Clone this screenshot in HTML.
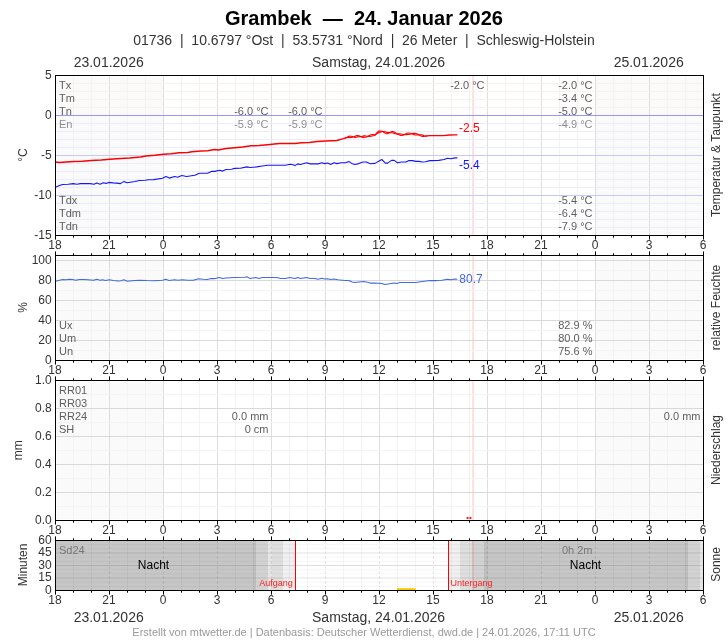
<!DOCTYPE html>
<html lang="de">
<head>
<meta charset="utf-8">
<title>Grambek — 24. Januar 2026</title>
<style>
html,body{margin:0;padding:0;background:#fff;}
body{width:728px;height:640px;overflow:hidden;font-family:"Liberation Sans", sans-serif;}
svg{display:block;font-family:"Liberation Sans", sans-serif;}
svg text{white-space:pre;}
</style>
</head>
<body>
<svg width="728" height="640" viewBox="0 0 728 640">
<rect width="728" height="640" fill="#fff"/>
<text x="364" y="24.8" font-size="20" fill="#000" text-anchor="middle" font-weight="bold" >Grambek  —  24. Januar 2026</text>
<text x="364" y="45" font-size="14" fill="#333" text-anchor="middle" font-weight="normal" >01736  |  10.6797 °Ost  |  53.5731 °Nord  |  26 Meter  |  Schleswig-Holstein</text>
<text x="108.7" y="67" font-size="14" fill="#333" text-anchor="middle" font-weight="normal" >23.01.2026</text>
<text x="378.6" y="67" font-size="14" fill="#333" text-anchor="middle" font-weight="normal" >Samstag, 24.01.2026</text>
<text x="648.7" y="67" font-size="14" fill="#333" text-anchor="middle" font-weight="normal" >25.01.2026</text>
<text x="108.7" y="622" font-size="14" fill="#333" text-anchor="middle" font-weight="normal" >23.01.2026</text>
<text x="378.6" y="622" font-size="14" fill="#333" text-anchor="middle" font-weight="normal" >Samstag, 24.01.2026</text>
<text x="648.7" y="622" font-size="14" fill="#333" text-anchor="middle" font-weight="normal" >25.01.2026</text>
<text x="364" y="636" font-size="11" fill="#999" text-anchor="middle" font-weight="normal" >Erstellt von mtwetter.de | Datenbasis: Deutscher Wetterdienst, dwd.de | 24.01.2026, 17:11 UTC</text>
<g shape-rendering="crispEdges">
<rect x="57" y="77" width="106.5" height="157" fill="#fafafa" />
<rect x="595.5" y="77" width="106.5" height="157" fill="#fafafa" />
<line x1="73.5" y1="76" x2="73.5" y2="235" stroke="#f3f3f3" stroke-width="1" />
<line x1="91.5" y1="76" x2="91.5" y2="235" stroke="#f3f3f3" stroke-width="1" />
<line x1="109.5" y1="76" x2="109.5" y2="235" stroke="#dedede" stroke-width="1" />
<line x1="127.5" y1="76" x2="127.5" y2="235" stroke="#f3f3f3" stroke-width="1" />
<line x1="145.5" y1="76" x2="145.5" y2="235" stroke="#f3f3f3" stroke-width="1" />
<line x1="163.5" y1="76" x2="163.5" y2="235" stroke="#dedede" stroke-width="1" />
<line x1="181.5" y1="76" x2="181.5" y2="235" stroke="#f3f3f3" stroke-width="1" />
<line x1="199.5" y1="76" x2="199.5" y2="235" stroke="#f3f3f3" stroke-width="1" />
<line x1="217.5" y1="76" x2="217.5" y2="235" stroke="#dedede" stroke-width="1" />
<line x1="235.5" y1="76" x2="235.5" y2="235" stroke="#f3f3f3" stroke-width="1" />
<line x1="253.5" y1="76" x2="253.5" y2="235" stroke="#f3f3f3" stroke-width="1" />
<line x1="271.5" y1="76" x2="271.5" y2="235" stroke="#dedede" stroke-width="1" />
<line x1="289.5" y1="76" x2="289.5" y2="235" stroke="#f3f3f3" stroke-width="1" />
<line x1="307.5" y1="76" x2="307.5" y2="235" stroke="#f3f3f3" stroke-width="1" />
<line x1="325.5" y1="76" x2="325.5" y2="235" stroke="#dedede" stroke-width="1" />
<line x1="343.5" y1="76" x2="343.5" y2="235" stroke="#f3f3f3" stroke-width="1" />
<line x1="361.5" y1="76" x2="361.5" y2="235" stroke="#f3f3f3" stroke-width="1" />
<line x1="379.5" y1="76" x2="379.5" y2="235" stroke="#dedede" stroke-width="1" />
<line x1="397.5" y1="76" x2="397.5" y2="235" stroke="#f3f3f3" stroke-width="1" />
<line x1="415.5" y1="76" x2="415.5" y2="235" stroke="#f3f3f3" stroke-width="1" />
<line x1="433.5" y1="76" x2="433.5" y2="235" stroke="#dedede" stroke-width="1" />
<line x1="451.5" y1="76" x2="451.5" y2="235" stroke="#f3f3f3" stroke-width="1" />
<line x1="469.5" y1="76" x2="469.5" y2="235" stroke="#f3f3f3" stroke-width="1" />
<line x1="487.5" y1="76" x2="487.5" y2="235" stroke="#dedede" stroke-width="1" />
<line x1="505.5" y1="76" x2="505.5" y2="235" stroke="#f3f3f3" stroke-width="1" />
<line x1="523.5" y1="76" x2="523.5" y2="235" stroke="#f3f3f3" stroke-width="1" />
<line x1="541.5" y1="76" x2="541.5" y2="235" stroke="#dedede" stroke-width="1" />
<line x1="559.5" y1="76" x2="559.5" y2="235" stroke="#f3f3f3" stroke-width="1" />
<line x1="577.5" y1="76" x2="577.5" y2="235" stroke="#f3f3f3" stroke-width="1" />
<line x1="595.5" y1="76" x2="595.5" y2="235" stroke="#dedede" stroke-width="1" />
<line x1="613.5" y1="76" x2="613.5" y2="235" stroke="#f3f3f3" stroke-width="1" />
<line x1="631.5" y1="76" x2="631.5" y2="235" stroke="#f3f3f3" stroke-width="1" />
<line x1="649.5" y1="76" x2="649.5" y2="235" stroke="#dedede" stroke-width="1" />
<line x1="667.5" y1="76" x2="667.5" y2="235" stroke="#f3f3f3" stroke-width="1" />
<line x1="685.5" y1="76" x2="685.5" y2="235" stroke="#f3f3f3" stroke-width="1" />
</g>
<line x1="473" y1="76" x2="473" y2="235" stroke="rgba(255,0,0,0.15)" stroke-width="1.6" />
<g shape-rendering="crispEdges">
<line x1="56" y1="83.5" x2="703" y2="83.5" stroke="#ffecec" stroke-width="1" />
<line x1="56" y1="91.5" x2="703" y2="91.5" stroke="#ffecec" stroke-width="1" />
<line x1="56" y1="99.5" x2="703" y2="99.5" stroke="#ffecec" stroke-width="1" />
<line x1="56" y1="107.5" x2="703" y2="107.5" stroke="#ffecec" stroke-width="1" />
<line x1="56" y1="115.5" x2="703" y2="115.5" stroke="#9696ff" stroke-width="1" />
<line x1="56" y1="123.5" x2="703" y2="123.5" stroke="#ebebff" stroke-width="1" />
<line x1="56" y1="131.5" x2="703" y2="131.5" stroke="#ebebff" stroke-width="1" />
<line x1="56" y1="139.5" x2="703" y2="139.5" stroke="#ebebff" stroke-width="1" />
<line x1="56" y1="147.5" x2="703" y2="147.5" stroke="#ebebff" stroke-width="1" />
<line x1="56" y1="155.5" x2="703" y2="155.5" stroke="#c8c8ff" stroke-width="1" />
<line x1="56" y1="163.5" x2="703" y2="163.5" stroke="#ebebff" stroke-width="1" />
<line x1="56" y1="171.5" x2="703" y2="171.5" stroke="#ebebff" stroke-width="1" />
<line x1="56" y1="179.5" x2="703" y2="179.5" stroke="#ebebff" stroke-width="1" />
<line x1="56" y1="187.5" x2="703" y2="187.5" stroke="#ebebff" stroke-width="1" />
<line x1="56" y1="195.5" x2="703" y2="195.5" stroke="#c8c8ff" stroke-width="1" />
<line x1="56" y1="203.5" x2="703" y2="203.5" stroke="#ebebff" stroke-width="1" />
<line x1="56" y1="211.5" x2="703" y2="211.5" stroke="#ebebff" stroke-width="1" />
<line x1="56" y1="219.5" x2="703" y2="219.5" stroke="#ebebff" stroke-width="1" />
<line x1="56" y1="227.5" x2="703" y2="227.5" stroke="#ebebff" stroke-width="1" />
</g>
<polyline points="55.5,187.3 59.4,185.6 62.7,184.5 68.2,184.2 73.1,183.6 77.0,184.2 80.3,183.6 90.2,183.6 94.0,184.2 96.8,182.9 100.1,184.2 103.4,182.8 106.1,183.4 108.8,182.4 113.2,182.9 116.5,183.1 120.4,183.6 124.0,181.4 127.0,182.8 131.9,182.0 135.0,181.5 139.4,180.5 145.4,180.3 148.2,179.7 153.7,179.6 162.5,178.3 166.0,176.5 169.3,178.1 174.6,176.5 177.9,177.2 181.7,175.5 186.6,176.5 189.9,176.0 194.9,175.2 199.3,173.3 207.5,173.3 211.4,171.4 215.0,171.4 219.4,170.3 222.7,171.1 226.0,169.5 231.5,169.3 234.8,168.4 240.3,168.3 246.9,166.9 250.2,167.5 256.8,166.9 262.3,166.0 267.7,165.2 276.5,165.2 285.3,165.2 290.3,164.2 293.0,164.7 295.0,165.6 297.7,163.9 300.5,164.5 306.5,162.8 310.4,163.9 318.1,163.9 321.9,162.8 324.7,163.6 327.7,163.0 330.7,164.5 334.0,162.8 336.8,163.6 341.2,162.8 345.5,162.8 348.8,161.4 351.6,163.4 354.9,164.5 358.7,163.6 363.1,162.0 366.4,162.0 370.3,163.7 375.0,163.4 378.3,161.4 381.8,159.5 385.4,163.1 387.6,163.1 391.5,160.4 394.2,160.4 397.5,162.8 401.4,162.0 405.8,162.0 409.1,160.6 412.4,160.6 415.7,161.4 419.0,161.4 422.3,162.0 425.5,161.7 429.9,160.6 438.7,160.4 444.2,159.5 447.5,158.2 450.8,158.7 455.0,157.9 456.9,157.9" fill="none" stroke="#1414ff" stroke-width="1.1" stroke-linejoin="round" stroke-linecap="round"/>
<polyline points="346.0,137.7 347.0,137.5 348.0,137.4 349.0,137.3 350.0,137.6 351.0,137.5 352.0,137.3 353.0,137.0 354.0,136.8 355.0,136.3 356.0,135.9 357.0,135.6 358.0,135.5 359.0,135.8 360.0,136.2 361.0,136.7 362.0,137.2 363.0,137.4 364.0,137.4 365.0,137.3 366.0,137.1 367.0,136.7 368.0,136.2 369.0,135.7 370.0,135.2 371.0,134.8 372.0,134.6 373.0,134.6 374.0,134.7 375.0,134.9 376.0,134.3 377.0,133.7 378.0,133.0 379.0,132.6 380.0,132.3 381.0,132.0 382.0,131.5 383.0,131.5 384.0,131.5 385.0,131.7 386.0,132.0 387.0,132.4 388.0,132.4 389.0,132.5 390.0,132.6 391.0,132.7 392.0,132.7 393.0,132.9 394.0,133.3 395.0,133.6 396.0,133.8 397.0,133.9 398.0,133.8 399.0,133.8 400.0,133.8 401.0,134.0 402.0,134.3 403.0,134.5 404.0,134.5 405.0,134.6 406.0,134.6 407.0,134.6 408.0,134.4 409.0,134.4 410.0,134.2 411.0,133.9 412.0,133.6 413.0,133.4 414.0,133.3 415.0,133.4 416.0,133.6 417.0,133.9 418.0,134.3 419.0,134.8 420.0,135.4 421.0,135.9 422.0,136.3 423.0,136.3 424.0,136.3 425.0,136.2 426.0,136.0" fill="none" stroke="#ff0000" stroke-width="1.15" stroke-linejoin="round" stroke-linecap="round"/>
<polyline points="346.0,137.7 347.0,137.3 348.0,136.8 349.0,136.3 350.0,136.1 351.0,136.3 352.0,136.5 353.0,136.9 354.0,137.2 355.0,137.3 356.0,137.3 357.0,137.1 358.0,136.8 359.0,136.7 360.0,136.6 361.0,136.5 362.0,136.4 363.0,136.1 364.0,135.9 365.0,135.9 366.0,136.0 367.0,136.2 368.0,136.3 369.0,136.4 370.0,136.4 371.0,136.3 372.0,136.0 373.0,135.8 374.0,135.5 375.0,135.1 376.0,133.8 377.0,132.7 378.0,131.6 379.0,131.1 380.0,131.0 381.0,131.1 382.0,131.2 383.0,131.8 384.0,132.4 385.0,133.0 386.0,133.5 387.0,133.8 388.0,133.4 389.0,133.0 390.0,132.5 391.0,131.9 392.0,131.5 393.0,131.4 394.0,131.9 395.0,132.4 396.0,133.1 397.0,133.9 398.0,134.4 399.0,134.8 400.0,135.2 401.0,135.4 402.0,135.5 403.0,135.3 404.0,134.8 405.0,134.2 406.0,133.7 407.0,133.3 408.0,133.0 409.0,133.0 410.0,133.2 411.0,133.5 412.0,133.8 413.0,134.2 414.0,134.6 415.0,134.9 416.0,135.0 417.0,135.0 418.0,134.9 419.0,134.8 420.0,134.8 421.0,134.7 422.0,134.8 423.0,135.2 424.0,135.7 425.0,136.0 426.0,136.0" fill="none" stroke="#ff0000" stroke-width="1.15" stroke-linejoin="round" stroke-linecap="round"/>
<polyline points="55.5,162.0 59.4,162.6 66.0,161.9 73.7,161.5 82.5,161.2 91.3,160.5 101.2,160.0 109.9,159.3 120.9,158.5 129.7,157.9 135.0,157.4 140.5,157.1 146.0,156.1 154.8,155.3 163.6,154.2 171.3,153.7 179.0,152.8 187.7,152.4 192.1,151.7 200.9,151.1 207.5,150.7 215.0,149.6 218.3,150.0 226.0,148.6 234.8,147.8 242.5,147.1 251.3,145.8 259.0,145.6 267.7,144.7 274.3,144.1 279.8,143.5 287.5,143.6 295.0,143.6 301.6,142.8 309.3,142.5 317.0,141.6 325.8,140.9 336.8,140.5 343.4,138.6 346.0,137.7" fill="none" stroke="#ff0000" stroke-width="1.5" stroke-linejoin="round" stroke-linecap="round"/>
<polyline points="426.0,136.0 429.9,135.7 436.5,135.7 443.1,135.7 449.7,135.0 455.0,134.8 456.9,134.9" fill="none" stroke="#ff0000" stroke-width="1.3" stroke-linejoin="round" stroke-linecap="round"/>
<rect x="55.5" y="75.5" width="648" height="160" fill="none" stroke="#000" stroke-width="1" shape-rendering="crispEdges"/>
<path d="M55.5 235.5v4.1M73.5 235.5v2.2M91.5 235.5v2.2M109.5 235.5v4.1M127.5 235.5v2.2M145.5 235.5v2.2M163.5 235.5v4.1M181.5 235.5v2.2M199.5 235.5v2.2M217.5 235.5v4.1M235.5 235.5v2.2M253.5 235.5v2.2M271.5 235.5v4.1M289.5 235.5v2.2M307.5 235.5v2.2M325.5 235.5v4.1M343.5 235.5v2.2M361.5 235.5v2.2M379.5 235.5v4.1M397.5 235.5v2.2M415.5 235.5v2.2M433.5 235.5v4.1M451.5 235.5v2.2M469.5 235.5v2.2M487.5 235.5v4.1M505.5 235.5v2.2M523.5 235.5v2.2M541.5 235.5v4.1M559.5 235.5v2.2M577.5 235.5v2.2M595.5 235.5v4.1M613.5 235.5v2.2M631.5 235.5v2.2M649.5 235.5v4.1M667.5 235.5v2.2M685.5 235.5v2.2M703.5 235.5v4.1" stroke="#000" stroke-width="1" fill="none"/>
<text x="55" y="248.8" font-size="12" fill="#333" text-anchor="middle" font-weight="normal" >18</text>
<text x="109" y="248.8" font-size="12" fill="#333" text-anchor="middle" font-weight="normal" >21</text>
<text x="163" y="248.8" font-size="12" fill="#333" text-anchor="middle" font-weight="normal" >0</text>
<text x="217" y="248.8" font-size="12" fill="#333" text-anchor="middle" font-weight="normal" >3</text>
<text x="271" y="248.8" font-size="12" fill="#333" text-anchor="middle" font-weight="normal" >6</text>
<text x="325" y="248.8" font-size="12" fill="#333" text-anchor="middle" font-weight="normal" >9</text>
<text x="379" y="248.8" font-size="12" fill="#333" text-anchor="middle" font-weight="normal" >12</text>
<text x="433" y="248.8" font-size="12" fill="#333" text-anchor="middle" font-weight="normal" >15</text>
<text x="487" y="248.8" font-size="12" fill="#333" text-anchor="middle" font-weight="normal" >18</text>
<text x="541" y="248.8" font-size="12" fill="#333" text-anchor="middle" font-weight="normal" >21</text>
<text x="595" y="248.8" font-size="12" fill="#333" text-anchor="middle" font-weight="normal" >0</text>
<text x="649" y="248.8" font-size="12" fill="#333" text-anchor="middle" font-weight="normal" >3</text>
<text x="703" y="248.8" font-size="12" fill="#333" text-anchor="middle" font-weight="normal" >6</text>
<text x="51.7" y="79.3" font-size="12" fill="#333" text-anchor="end" font-weight="normal" >5</text>
<text x="51.7" y="119.3" font-size="12" fill="#333" text-anchor="end" font-weight="normal" >0</text>
<text x="51.7" y="159.3" font-size="12" fill="#333" text-anchor="end" font-weight="normal" >-5</text>
<text x="51.7" y="199.3" font-size="12" fill="#333" text-anchor="end" font-weight="normal" >-10</text>
<text x="51.7" y="239.3" font-size="12" fill="#333" text-anchor="end" font-weight="normal" >-15</text>
<text transform="translate(27,155) rotate(-90)" font-size="12" fill="#333" text-anchor="middle">°C</text>
<text transform="translate(719.5,155) rotate(-90)" font-size="12" fill="#333" text-anchor="middle">Temperatur &amp; Taupunkt</text>
<text x="59" y="88.5" font-size="11" fill="#5e5e5e" text-anchor="start" font-weight="normal" >Tx</text>
<text x="59" y="101.5" font-size="11" fill="#5e5e5e" text-anchor="start" font-weight="normal" >Tm</text>
<text x="59" y="114.5" font-size="11" fill="#5e5e5e" text-anchor="start" font-weight="normal" >Tn</text>
<text x="59" y="127.5" font-size="11" fill="#8e8e8e" text-anchor="start" font-weight="normal" >En</text>
<text x="59" y="203.5" font-size="11" fill="#5e5e5e" text-anchor="start" font-weight="normal" >Tdx</text>
<text x="59" y="216.5" font-size="11" fill="#5e5e5e" text-anchor="start" font-weight="normal" >Tdm</text>
<text x="59" y="229.5" font-size="11" fill="#5e5e5e" text-anchor="start" font-weight="normal" >Tdn</text>
<text x="268.5" y="114.5" font-size="11" fill="#5e5e5e" text-anchor="end" font-weight="normal" >-6.0 °C</text>
<text x="322.5" y="114.5" font-size="11" fill="#5e5e5e" text-anchor="end" font-weight="normal" >-6.0 °C</text>
<text x="268.5" y="127.5" font-size="11" fill="#8e8e8e" text-anchor="end" font-weight="normal" >-5.9 °C</text>
<text x="322.5" y="127.5" font-size="11" fill="#8e8e8e" text-anchor="end" font-weight="normal" >-5.9 °C</text>
<text x="484.5" y="88.5" font-size="11" fill="#5e5e5e" text-anchor="end" font-weight="normal" >-2.0 °C</text>
<text x="592.5" y="88.5" font-size="11" fill="#5e5e5e" text-anchor="end" font-weight="normal" >-2.0 °C</text>
<text x="592.5" y="101.5" font-size="11" fill="#5e5e5e" text-anchor="end" font-weight="normal" >-3.4 °C</text>
<text x="592.5" y="114.5" font-size="11" fill="#5e5e5e" text-anchor="end" font-weight="normal" >-5.0 °C</text>
<text x="592.5" y="127.5" font-size="11" fill="#8e8e8e" text-anchor="end" font-weight="normal" >-4.9 °C</text>
<text x="592.5" y="203.5" font-size="11" fill="#5e5e5e" text-anchor="end" font-weight="normal" >-5.4 °C</text>
<text x="592.5" y="216.5" font-size="11" fill="#5e5e5e" text-anchor="end" font-weight="normal" >-6.4 °C</text>
<text x="592.5" y="229.5" font-size="11" fill="#5e5e5e" text-anchor="end" font-weight="normal" >-7.9 °C</text>
<text x="459" y="131.9" font-size="12" fill="#ff0000" text-anchor="start" font-weight="normal" >-2.5</text>
<text x="459" y="169" font-size="12" fill="#1414ff" text-anchor="start" font-weight="normal" >-5.4</text>
<g shape-rendering="crispEdges">
<rect x="57" y="257" width="106.5" height="102" fill="#fafafa" />
<rect x="595.5" y="257" width="106.5" height="102" fill="#fafafa" />
<line x1="73.5" y1="256" x2="73.5" y2="360" stroke="#f3f3f3" stroke-width="1" />
<line x1="91.5" y1="256" x2="91.5" y2="360" stroke="#f3f3f3" stroke-width="1" />
<line x1="109.5" y1="256" x2="109.5" y2="360" stroke="#dedede" stroke-width="1" />
<line x1="127.5" y1="256" x2="127.5" y2="360" stroke="#f3f3f3" stroke-width="1" />
<line x1="145.5" y1="256" x2="145.5" y2="360" stroke="#f3f3f3" stroke-width="1" />
<line x1="163.5" y1="256" x2="163.5" y2="360" stroke="#dedede" stroke-width="1" />
<line x1="181.5" y1="256" x2="181.5" y2="360" stroke="#f3f3f3" stroke-width="1" />
<line x1="199.5" y1="256" x2="199.5" y2="360" stroke="#f3f3f3" stroke-width="1" />
<line x1="217.5" y1="256" x2="217.5" y2="360" stroke="#dedede" stroke-width="1" />
<line x1="235.5" y1="256" x2="235.5" y2="360" stroke="#f3f3f3" stroke-width="1" />
<line x1="253.5" y1="256" x2="253.5" y2="360" stroke="#f3f3f3" stroke-width="1" />
<line x1="271.5" y1="256" x2="271.5" y2="360" stroke="#dedede" stroke-width="1" />
<line x1="289.5" y1="256" x2="289.5" y2="360" stroke="#f3f3f3" stroke-width="1" />
<line x1="307.5" y1="256" x2="307.5" y2="360" stroke="#f3f3f3" stroke-width="1" />
<line x1="325.5" y1="256" x2="325.5" y2="360" stroke="#dedede" stroke-width="1" />
<line x1="343.5" y1="256" x2="343.5" y2="360" stroke="#f3f3f3" stroke-width="1" />
<line x1="361.5" y1="256" x2="361.5" y2="360" stroke="#f3f3f3" stroke-width="1" />
<line x1="379.5" y1="256" x2="379.5" y2="360" stroke="#dedede" stroke-width="1" />
<line x1="397.5" y1="256" x2="397.5" y2="360" stroke="#f3f3f3" stroke-width="1" />
<line x1="415.5" y1="256" x2="415.5" y2="360" stroke="#f3f3f3" stroke-width="1" />
<line x1="433.5" y1="256" x2="433.5" y2="360" stroke="#dedede" stroke-width="1" />
<line x1="451.5" y1="256" x2="451.5" y2="360" stroke="#f3f3f3" stroke-width="1" />
<line x1="469.5" y1="256" x2="469.5" y2="360" stroke="#f3f3f3" stroke-width="1" />
<line x1="487.5" y1="256" x2="487.5" y2="360" stroke="#dedede" stroke-width="1" />
<line x1="505.5" y1="256" x2="505.5" y2="360" stroke="#f3f3f3" stroke-width="1" />
<line x1="523.5" y1="256" x2="523.5" y2="360" stroke="#f3f3f3" stroke-width="1" />
<line x1="541.5" y1="256" x2="541.5" y2="360" stroke="#dedede" stroke-width="1" />
<line x1="559.5" y1="256" x2="559.5" y2="360" stroke="#f3f3f3" stroke-width="1" />
<line x1="577.5" y1="256" x2="577.5" y2="360" stroke="#f3f3f3" stroke-width="1" />
<line x1="595.5" y1="256" x2="595.5" y2="360" stroke="#dedede" stroke-width="1" />
<line x1="613.5" y1="256" x2="613.5" y2="360" stroke="#f3f3f3" stroke-width="1" />
<line x1="631.5" y1="256" x2="631.5" y2="360" stroke="#f3f3f3" stroke-width="1" />
<line x1="649.5" y1="256" x2="649.5" y2="360" stroke="#dedede" stroke-width="1" />
<line x1="667.5" y1="256" x2="667.5" y2="360" stroke="#f3f3f3" stroke-width="1" />
<line x1="685.5" y1="256" x2="685.5" y2="360" stroke="#f3f3f3" stroke-width="1" />
</g>
<line x1="473" y1="256" x2="473" y2="360" stroke="rgba(255,0,0,0.15)" stroke-width="1.6" />
<g shape-rendering="crispEdges">
<line x1="56" y1="350.5" x2="703" y2="350.5" stroke="#f4f4f4" stroke-width="1" />
<line x1="56" y1="340.5" x2="703" y2="340.5" stroke="#d9d9d9" stroke-width="1" />
<line x1="56" y1="330.5" x2="703" y2="330.5" stroke="#f4f4f4" stroke-width="1" />
<line x1="56" y1="320.5" x2="703" y2="320.5" stroke="#d9d9d9" stroke-width="1" />
<line x1="56" y1="310.5" x2="703" y2="310.5" stroke="#f4f4f4" stroke-width="1" />
<line x1="56" y1="300.5" x2="703" y2="300.5" stroke="#d9d9d9" stroke-width="1" />
<line x1="56" y1="290.5" x2="703" y2="290.5" stroke="#f4f4f4" stroke-width="1" />
<line x1="56" y1="280.5" x2="703" y2="280.5" stroke="#d9d9d9" stroke-width="1" />
<line x1="56" y1="270.5" x2="703" y2="270.5" stroke="#f4f4f4" stroke-width="1" />
<line x1="56" y1="260.5" x2="703" y2="260.5" stroke="#d9d9d9" stroke-width="1" />
</g>
<polyline points="55.5,281.2 59.4,280.2 62.7,279.5 66.0,279.7 69.8,279.2 72.6,279.5 75.9,280.2 79.2,279.4 83.6,279.4 88.0,279.7 93.5,280.3 96.8,279.3 100.1,280.3 102.8,279.7 105.5,280.5 109.4,279.7 113.2,280.4 118.7,281.0 120.9,280.8 124.0,279.8 127.0,281.2 131.9,280.7 135.0,280.5 139.4,280.2 147.1,280.6 153.7,280.7 162.5,280.2 165.8,279.3 169.1,280.5 174.6,279.8 177.9,280.3 182.3,279.7 187.7,280.2 193.2,280.2 198.7,278.7 203.1,279.3 207.5,279.4 210.8,278.6 215.0,278.6 219.4,277.6 222.7,278.6 226.0,278.0 234.8,277.5 244.7,277.3 246.9,276.8 250.2,278.6 255.7,277.5 259.0,278.4 262.3,277.5 269.9,277.5 276.5,277.5 280.9,278.4 285.3,278.4 289.7,277.6 295.0,278.4 297.7,277.4 300.5,278.4 306.5,277.4 310.4,278.4 314.8,278.4 318.1,279.3 321.9,278.2 324.7,279.1 327.7,278.8 330.7,279.5 334.0,279.1 337.9,279.7 342.3,280.2 345.5,280.6 348.8,280.4 352.1,281.9 354.9,282.5 358.7,282.1 363.7,281.5 366.4,282.1 370.3,283.1 375.0,283.1 381.6,283.5 384.9,284.6 388.2,283.9 393.7,283.0 397.5,283.5 399.7,282.4 406.9,282.4 415.7,282.4 422.3,281.5 429.9,280.6 436.5,280.6 442.0,280.2 447.5,279.3 450.8,279.8 455.0,279.1 456.9,279.3" fill="none" stroke="#4169e1" stroke-width="1.05" stroke-linejoin="round" stroke-linecap="round"/>
<rect x="55.5" y="255.5" width="648" height="105" fill="none" stroke="#000" stroke-width="1" shape-rendering="crispEdges"/>
<path d="M55.5 360.5v4.1M55.5 255.5v-4.1M73.5 360.5v2.2M73.5 255.5v-2.2M91.5 360.5v2.2M91.5 255.5v-2.2M109.5 360.5v4.1M109.5 255.5v-4.1M127.5 360.5v2.2M127.5 255.5v-2.2M145.5 360.5v2.2M145.5 255.5v-2.2M163.5 360.5v4.1M163.5 255.5v-4.1M181.5 360.5v2.2M181.5 255.5v-2.2M199.5 360.5v2.2M199.5 255.5v-2.2M217.5 360.5v4.1M217.5 255.5v-4.1M235.5 360.5v2.2M235.5 255.5v-2.2M253.5 360.5v2.2M253.5 255.5v-2.2M271.5 360.5v4.1M271.5 255.5v-4.1M289.5 360.5v2.2M289.5 255.5v-2.2M307.5 360.5v2.2M307.5 255.5v-2.2M325.5 360.5v4.1M325.5 255.5v-4.1M343.5 360.5v2.2M343.5 255.5v-2.2M361.5 360.5v2.2M361.5 255.5v-2.2M379.5 360.5v4.1M379.5 255.5v-4.1M397.5 360.5v2.2M397.5 255.5v-2.2M415.5 360.5v2.2M415.5 255.5v-2.2M433.5 360.5v4.1M433.5 255.5v-4.1M451.5 360.5v2.2M451.5 255.5v-2.2M469.5 360.5v2.2M469.5 255.5v-2.2M487.5 360.5v4.1M487.5 255.5v-4.1M505.5 360.5v2.2M505.5 255.5v-2.2M523.5 360.5v2.2M523.5 255.5v-2.2M541.5 360.5v4.1M541.5 255.5v-4.1M559.5 360.5v2.2M559.5 255.5v-2.2M577.5 360.5v2.2M577.5 255.5v-2.2M595.5 360.5v4.1M595.5 255.5v-4.1M613.5 360.5v2.2M613.5 255.5v-2.2M631.5 360.5v2.2M631.5 255.5v-2.2M649.5 360.5v4.1M649.5 255.5v-4.1M667.5 360.5v2.2M667.5 255.5v-2.2M685.5 360.5v2.2M685.5 255.5v-2.2M703.5 360.5v4.1M703.5 255.5v-4.1" stroke="#000" stroke-width="1" fill="none"/>
<text x="55" y="373.8" font-size="12" fill="#333" text-anchor="middle" font-weight="normal" >18</text>
<text x="109" y="373.8" font-size="12" fill="#333" text-anchor="middle" font-weight="normal" >21</text>
<text x="163" y="373.8" font-size="12" fill="#333" text-anchor="middle" font-weight="normal" >0</text>
<text x="217" y="373.8" font-size="12" fill="#333" text-anchor="middle" font-weight="normal" >3</text>
<text x="271" y="373.8" font-size="12" fill="#333" text-anchor="middle" font-weight="normal" >6</text>
<text x="325" y="373.8" font-size="12" fill="#333" text-anchor="middle" font-weight="normal" >9</text>
<text x="379" y="373.8" font-size="12" fill="#333" text-anchor="middle" font-weight="normal" >12</text>
<text x="433" y="373.8" font-size="12" fill="#333" text-anchor="middle" font-weight="normal" >15</text>
<text x="487" y="373.8" font-size="12" fill="#333" text-anchor="middle" font-weight="normal" >18</text>
<text x="541" y="373.8" font-size="12" fill="#333" text-anchor="middle" font-weight="normal" >21</text>
<text x="595" y="373.8" font-size="12" fill="#333" text-anchor="middle" font-weight="normal" >0</text>
<text x="649" y="373.8" font-size="12" fill="#333" text-anchor="middle" font-weight="normal" >3</text>
<text x="703" y="373.8" font-size="12" fill="#333" text-anchor="middle" font-weight="normal" >6</text>
<text x="51.7" y="364.3" font-size="12" fill="#333" text-anchor="end" font-weight="normal" >0</text>
<text x="51.7" y="344.3" font-size="12" fill="#333" text-anchor="end" font-weight="normal" >20</text>
<text x="51.7" y="324.3" font-size="12" fill="#333" text-anchor="end" font-weight="normal" >40</text>
<text x="51.7" y="304.3" font-size="12" fill="#333" text-anchor="end" font-weight="normal" >60</text>
<text x="51.7" y="284.3" font-size="12" fill="#333" text-anchor="end" font-weight="normal" >80</text>
<text x="51.7" y="264.3" font-size="12" fill="#333" text-anchor="end" font-weight="normal" >100</text>
<text transform="translate(27,307.5) rotate(-90)" font-size="12" fill="#333" text-anchor="middle">%</text>
<text transform="translate(719.5,307.5) rotate(-90)" font-size="12" fill="#333" text-anchor="middle">relative Feuchte</text>
<text x="59" y="328.5" font-size="11" fill="#5e5e5e" text-anchor="start" font-weight="normal" >Ux</text>
<text x="59" y="341.5" font-size="11" fill="#5e5e5e" text-anchor="start" font-weight="normal" >Um</text>
<text x="59" y="354.5" font-size="11" fill="#5e5e5e" text-anchor="start" font-weight="normal" >Un</text>
<text x="592.5" y="328.5" font-size="11" fill="#5e5e5e" text-anchor="end" font-weight="normal" >82.9 %</text>
<text x="592.5" y="341.5" font-size="11" fill="#5e5e5e" text-anchor="end" font-weight="normal" >80.0 %</text>
<text x="592.5" y="354.5" font-size="11" fill="#5e5e5e" text-anchor="end" font-weight="normal" >75.6 %</text>
<text x="459.3" y="282.9" font-size="12" fill="#4169e1" text-anchor="start" font-weight="normal" >80.7</text>
<g shape-rendering="crispEdges">
<rect x="57" y="382" width="106.5" height="137" fill="#fafafa" />
<rect x="595.5" y="382" width="106.5" height="137" fill="#fafafa" />
<line x1="73.5" y1="381" x2="73.5" y2="520" stroke="#f3f3f3" stroke-width="1" />
<line x1="91.5" y1="381" x2="91.5" y2="520" stroke="#f3f3f3" stroke-width="1" />
<line x1="109.5" y1="381" x2="109.5" y2="520" stroke="#dedede" stroke-width="1" />
<line x1="127.5" y1="381" x2="127.5" y2="520" stroke="#f3f3f3" stroke-width="1" />
<line x1="145.5" y1="381" x2="145.5" y2="520" stroke="#f3f3f3" stroke-width="1" />
<line x1="163.5" y1="381" x2="163.5" y2="520" stroke="#dedede" stroke-width="1" />
<line x1="181.5" y1="381" x2="181.5" y2="520" stroke="#f3f3f3" stroke-width="1" />
<line x1="199.5" y1="381" x2="199.5" y2="520" stroke="#f3f3f3" stroke-width="1" />
<line x1="217.5" y1="381" x2="217.5" y2="520" stroke="#dedede" stroke-width="1" />
<line x1="235.5" y1="381" x2="235.5" y2="520" stroke="#f3f3f3" stroke-width="1" />
<line x1="253.5" y1="381" x2="253.5" y2="520" stroke="#f3f3f3" stroke-width="1" />
<line x1="271.5" y1="381" x2="271.5" y2="520" stroke="#dedede" stroke-width="1" />
<line x1="289.5" y1="381" x2="289.5" y2="520" stroke="#f3f3f3" stroke-width="1" />
<line x1="307.5" y1="381" x2="307.5" y2="520" stroke="#f3f3f3" stroke-width="1" />
<line x1="325.5" y1="381" x2="325.5" y2="520" stroke="#dedede" stroke-width="1" />
<line x1="343.5" y1="381" x2="343.5" y2="520" stroke="#f3f3f3" stroke-width="1" />
<line x1="361.5" y1="381" x2="361.5" y2="520" stroke="#f3f3f3" stroke-width="1" />
<line x1="379.5" y1="381" x2="379.5" y2="520" stroke="#dedede" stroke-width="1" />
<line x1="397.5" y1="381" x2="397.5" y2="520" stroke="#f3f3f3" stroke-width="1" />
<line x1="415.5" y1="381" x2="415.5" y2="520" stroke="#f3f3f3" stroke-width="1" />
<line x1="433.5" y1="381" x2="433.5" y2="520" stroke="#dedede" stroke-width="1" />
<line x1="451.5" y1="381" x2="451.5" y2="520" stroke="#f3f3f3" stroke-width="1" />
<line x1="469.5" y1="381" x2="469.5" y2="520" stroke="#f3f3f3" stroke-width="1" />
<line x1="487.5" y1="381" x2="487.5" y2="520" stroke="#dedede" stroke-width="1" />
<line x1="505.5" y1="381" x2="505.5" y2="520" stroke="#f3f3f3" stroke-width="1" />
<line x1="523.5" y1="381" x2="523.5" y2="520" stroke="#f3f3f3" stroke-width="1" />
<line x1="541.5" y1="381" x2="541.5" y2="520" stroke="#dedede" stroke-width="1" />
<line x1="559.5" y1="381" x2="559.5" y2="520" stroke="#f3f3f3" stroke-width="1" />
<line x1="577.5" y1="381" x2="577.5" y2="520" stroke="#f3f3f3" stroke-width="1" />
<line x1="595.5" y1="381" x2="595.5" y2="520" stroke="#dedede" stroke-width="1" />
<line x1="613.5" y1="381" x2="613.5" y2="520" stroke="#f3f3f3" stroke-width="1" />
<line x1="631.5" y1="381" x2="631.5" y2="520" stroke="#f3f3f3" stroke-width="1" />
<line x1="649.5" y1="381" x2="649.5" y2="520" stroke="#dedede" stroke-width="1" />
<line x1="667.5" y1="381" x2="667.5" y2="520" stroke="#f3f3f3" stroke-width="1" />
<line x1="685.5" y1="381" x2="685.5" y2="520" stroke="#f3f3f3" stroke-width="1" />
</g>
<line x1="473" y1="381" x2="473" y2="520" stroke="rgba(255,0,0,0.15)" stroke-width="1.6" />
<g shape-rendering="crispEdges">
<line x1="56" y1="506.5" x2="703" y2="506.5" stroke="#f4f4f4" stroke-width="1" />
<line x1="56" y1="492.5" x2="703" y2="492.5" stroke="#d9d9d9" stroke-width="1" />
<line x1="56" y1="478.5" x2="703" y2="478.5" stroke="#f4f4f4" stroke-width="1" />
<line x1="56" y1="464.5" x2="703" y2="464.5" stroke="#d9d9d9" stroke-width="1" />
<line x1="56" y1="450.5" x2="703" y2="450.5" stroke="#f4f4f4" stroke-width="1" />
<line x1="56" y1="436.5" x2="703" y2="436.5" stroke="#d9d9d9" stroke-width="1" />
<line x1="56" y1="422.5" x2="703" y2="422.5" stroke="#f4f4f4" stroke-width="1" />
<line x1="56" y1="408.5" x2="703" y2="408.5" stroke="#d9d9d9" stroke-width="1" />
<line x1="56" y1="394.5" x2="703" y2="394.5" stroke="#f4f4f4" stroke-width="1" />
</g>
<rect x="55.5" y="380.5" width="648" height="140" fill="none" stroke="#000" stroke-width="1" shape-rendering="crispEdges"/>
<path d="M55.5 520.5v4.1M55.5 380.5v-4.1M73.5 520.5v2.2M73.5 380.5v-2.2M91.5 520.5v2.2M91.5 380.5v-2.2M109.5 520.5v4.1M109.5 380.5v-4.1M127.5 520.5v2.2M127.5 380.5v-2.2M145.5 520.5v2.2M145.5 380.5v-2.2M163.5 520.5v4.1M163.5 380.5v-4.1M181.5 520.5v2.2M181.5 380.5v-2.2M199.5 520.5v2.2M199.5 380.5v-2.2M217.5 520.5v4.1M217.5 380.5v-4.1M235.5 520.5v2.2M235.5 380.5v-2.2M253.5 520.5v2.2M253.5 380.5v-2.2M271.5 520.5v4.1M271.5 380.5v-4.1M289.5 520.5v2.2M289.5 380.5v-2.2M307.5 520.5v2.2M307.5 380.5v-2.2M325.5 520.5v4.1M325.5 380.5v-4.1M343.5 520.5v2.2M343.5 380.5v-2.2M361.5 520.5v2.2M361.5 380.5v-2.2M379.5 520.5v4.1M379.5 380.5v-4.1M397.5 520.5v2.2M397.5 380.5v-2.2M415.5 520.5v2.2M415.5 380.5v-2.2M433.5 520.5v4.1M433.5 380.5v-4.1M451.5 520.5v2.2M451.5 380.5v-2.2M469.5 520.5v2.2M469.5 380.5v-2.2M487.5 520.5v4.1M487.5 380.5v-4.1M505.5 520.5v2.2M505.5 380.5v-2.2M523.5 520.5v2.2M523.5 380.5v-2.2M541.5 520.5v4.1M541.5 380.5v-4.1M559.5 520.5v2.2M559.5 380.5v-2.2M577.5 520.5v2.2M577.5 380.5v-2.2M595.5 520.5v4.1M595.5 380.5v-4.1M613.5 520.5v2.2M613.5 380.5v-2.2M631.5 520.5v2.2M631.5 380.5v-2.2M649.5 520.5v4.1M649.5 380.5v-4.1M667.5 520.5v2.2M667.5 380.5v-2.2M685.5 520.5v2.2M685.5 380.5v-2.2M703.5 520.5v4.1M703.5 380.5v-4.1" stroke="#000" stroke-width="1" fill="none"/>
<text x="55" y="533.8" font-size="12" fill="#333" text-anchor="middle" font-weight="normal" >18</text>
<text x="109" y="533.8" font-size="12" fill="#333" text-anchor="middle" font-weight="normal" >21</text>
<text x="163" y="533.8" font-size="12" fill="#333" text-anchor="middle" font-weight="normal" >0</text>
<text x="217" y="533.8" font-size="12" fill="#333" text-anchor="middle" font-weight="normal" >3</text>
<text x="271" y="533.8" font-size="12" fill="#333" text-anchor="middle" font-weight="normal" >6</text>
<text x="325" y="533.8" font-size="12" fill="#333" text-anchor="middle" font-weight="normal" >9</text>
<text x="379" y="533.8" font-size="12" fill="#333" text-anchor="middle" font-weight="normal" >12</text>
<text x="433" y="533.8" font-size="12" fill="#333" text-anchor="middle" font-weight="normal" >15</text>
<text x="487" y="533.8" font-size="12" fill="#333" text-anchor="middle" font-weight="normal" >18</text>
<text x="541" y="533.8" font-size="12" fill="#333" text-anchor="middle" font-weight="normal" >21</text>
<text x="595" y="533.8" font-size="12" fill="#333" text-anchor="middle" font-weight="normal" >0</text>
<text x="649" y="533.8" font-size="12" fill="#333" text-anchor="middle" font-weight="normal" >3</text>
<text x="703" y="533.8" font-size="12" fill="#333" text-anchor="middle" font-weight="normal" >6</text>
<text x="51.7" y="524.3" font-size="12" fill="#333" text-anchor="end" font-weight="normal" >0.0</text>
<text x="51.7" y="496.3" font-size="12" fill="#333" text-anchor="end" font-weight="normal" >0.2</text>
<text x="51.7" y="468.3" font-size="12" fill="#333" text-anchor="end" font-weight="normal" >0.4</text>
<text x="51.7" y="440.3" font-size="12" fill="#333" text-anchor="end" font-weight="normal" >0.6</text>
<text x="51.7" y="412.3" font-size="12" fill="#333" text-anchor="end" font-weight="normal" >0.8</text>
<text x="51.7" y="384.3" font-size="12" fill="#333" text-anchor="end" font-weight="normal" >1.0</text>
<text transform="translate(22,450.2) rotate(-90)" font-size="12" fill="#333" text-anchor="middle">mm</text>
<text transform="translate(719.5,450) rotate(-90)" font-size="12" fill="#333" text-anchor="middle">Niederschlag</text>
<text x="59" y="393.5" font-size="11" fill="#5e5e5e" text-anchor="start" font-weight="normal" >RR01</text>
<text x="59" y="406.5" font-size="11" fill="#5e5e5e" text-anchor="start" font-weight="normal" >RR03</text>
<text x="59" y="419.5" font-size="11" fill="#5e5e5e" text-anchor="start" font-weight="normal" >RR24</text>
<text x="59" y="432.5" font-size="11" fill="#5e5e5e" text-anchor="start" font-weight="normal" >SH</text>
<text x="268.5" y="419.5" font-size="11" fill="#5e5e5e" text-anchor="end" font-weight="normal" >0.0 mm</text>
<text x="268.5" y="432.5" font-size="11" fill="#5e5e5e" text-anchor="end" font-weight="normal" >0 cm</text>
<text x="700.5" y="419.5" font-size="11" fill="#5e5e5e" text-anchor="end" font-weight="normal" >0.0 mm</text>
<circle cx="467.4" cy="518" r="1.05" fill="#ff0000"/><circle cx="470.5" cy="518" r="1.05" fill="#ff0000"/><rect x="467.4" y="517.3" width="3.1" height="1.4" fill="#ff0000" opacity="0.35"/>
<g>
<rect x="56" y="541" width="197" height="49" fill="#c6c6c6" />
<rect x="253" y="541" width="3" height="49" fill="#bfbfbf" />
<rect x="256" y="541" width="12" height="49" fill="#d2d2d2" />
<rect x="268" y="541" width="4" height="49" fill="#e6e6e6" />
<rect x="272" y="541" width="11" height="49" fill="#dedede" />
<rect x="283" y="541" width="12.5" height="49" fill="#f0f0f0" />
<rect x="448.5" y="541" width="11.5" height="49" fill="#f0f0f0" />
<rect x="460" y="541" width="12" height="49" fill="#dedede" />
<rect x="472" y="541" width="12" height="49" fill="#d2d2d2" />
<rect x="484" y="541" width="4" height="49" fill="#bfbfbf" />
<rect x="488" y="541" width="197" height="49" fill="#c6c6c6" />
<rect x="685" y="541" width="3" height="49" fill="#bfbfbf" />
<rect x="688" y="541" width="12" height="49" fill="#d2d2d2" />
<rect x="700" y="541" width="3" height="49" fill="#e6e6e6" />
</g>
<g shape-rendering="crispEdges">
<line x1="73.5" y1="541" x2="73.5" y2="590" stroke="rgba(0,0,0,0.04)" stroke-width="1" />
<line x1="91.5" y1="541" x2="91.5" y2="590" stroke="rgba(0,0,0,0.04)" stroke-width="1" />
<line x1="109.5" y1="541" x2="109.5" y2="590" stroke="rgba(0,0,0,0.09)" stroke-width="1" stroke-dasharray="3 2"/>
<line x1="127.5" y1="541" x2="127.5" y2="590" stroke="rgba(0,0,0,0.04)" stroke-width="1" />
<line x1="145.5" y1="541" x2="145.5" y2="590" stroke="rgba(0,0,0,0.04)" stroke-width="1" />
<line x1="163.5" y1="541" x2="163.5" y2="590" stroke="rgba(0,0,0,0.09)" stroke-width="1" stroke-dasharray="3 2"/>
<line x1="181.5" y1="541" x2="181.5" y2="590" stroke="rgba(0,0,0,0.04)" stroke-width="1" />
<line x1="199.5" y1="541" x2="199.5" y2="590" stroke="rgba(0,0,0,0.04)" stroke-width="1" />
<line x1="217.5" y1="541" x2="217.5" y2="590" stroke="rgba(0,0,0,0.09)" stroke-width="1" stroke-dasharray="3 2"/>
<line x1="235.5" y1="541" x2="235.5" y2="590" stroke="rgba(0,0,0,0.04)" stroke-width="1" />
<line x1="253.5" y1="541" x2="253.5" y2="590" stroke="rgba(0,0,0,0.04)" stroke-width="1" />
<line x1="271.5" y1="541" x2="271.5" y2="590" stroke="rgba(0,0,0,0.09)" stroke-width="1" stroke-dasharray="3 2"/>
<line x1="289.5" y1="541" x2="289.5" y2="590" stroke="rgba(0,0,0,0.04)" stroke-width="1" />
<line x1="307.5" y1="541" x2="307.5" y2="590" stroke="rgba(0,0,0,0.04)" stroke-width="1" />
<line x1="325.5" y1="541" x2="325.5" y2="590" stroke="rgba(0,0,0,0.09)" stroke-width="1" stroke-dasharray="3 2"/>
<line x1="343.5" y1="541" x2="343.5" y2="590" stroke="rgba(0,0,0,0.04)" stroke-width="1" />
<line x1="361.5" y1="541" x2="361.5" y2="590" stroke="rgba(0,0,0,0.04)" stroke-width="1" />
<line x1="379.5" y1="541" x2="379.5" y2="590" stroke="rgba(0,0,0,0.09)" stroke-width="1" stroke-dasharray="3 2"/>
<line x1="397.5" y1="541" x2="397.5" y2="590" stroke="rgba(0,0,0,0.04)" stroke-width="1" />
<line x1="415.5" y1="541" x2="415.5" y2="590" stroke="rgba(0,0,0,0.04)" stroke-width="1" />
<line x1="433.5" y1="541" x2="433.5" y2="590" stroke="rgba(0,0,0,0.09)" stroke-width="1" stroke-dasharray="3 2"/>
<line x1="451.5" y1="541" x2="451.5" y2="590" stroke="rgba(0,0,0,0.04)" stroke-width="1" />
<line x1="469.5" y1="541" x2="469.5" y2="590" stroke="rgba(0,0,0,0.04)" stroke-width="1" />
<line x1="487.5" y1="541" x2="487.5" y2="590" stroke="rgba(0,0,0,0.09)" stroke-width="1" stroke-dasharray="3 2"/>
<line x1="505.5" y1="541" x2="505.5" y2="590" stroke="rgba(0,0,0,0.04)" stroke-width="1" />
<line x1="523.5" y1="541" x2="523.5" y2="590" stroke="rgba(0,0,0,0.04)" stroke-width="1" />
<line x1="541.5" y1="541" x2="541.5" y2="590" stroke="rgba(0,0,0,0.09)" stroke-width="1" stroke-dasharray="3 2"/>
<line x1="559.5" y1="541" x2="559.5" y2="590" stroke="rgba(0,0,0,0.04)" stroke-width="1" />
<line x1="577.5" y1="541" x2="577.5" y2="590" stroke="rgba(0,0,0,0.04)" stroke-width="1" />
<line x1="595.5" y1="541" x2="595.5" y2="590" stroke="rgba(0,0,0,0.09)" stroke-width="1" stroke-dasharray="3 2"/>
<line x1="613.5" y1="541" x2="613.5" y2="590" stroke="rgba(0,0,0,0.04)" stroke-width="1" />
<line x1="631.5" y1="541" x2="631.5" y2="590" stroke="rgba(0,0,0,0.04)" stroke-width="1" />
<line x1="649.5" y1="541" x2="649.5" y2="590" stroke="rgba(0,0,0,0.09)" stroke-width="1" stroke-dasharray="3 2"/>
<line x1="667.5" y1="541" x2="667.5" y2="590" stroke="rgba(0,0,0,0.04)" stroke-width="1" />
<line x1="685.5" y1="541" x2="685.5" y2="590" stroke="rgba(0,0,0,0.04)" stroke-width="1" />
</g>
<g>
<line x1="56" y1="586.333" x2="703" y2="586.333" stroke="rgba(0,0,0,0.04)" stroke-width="1" />
<line x1="56" y1="582.167" x2="703" y2="582.167" stroke="rgba(0,0,0,0.04)" stroke-width="1" />
<line x1="56" y1="578" x2="703" y2="578" stroke="rgba(0,0,0,0.11)" stroke-width="1" />
<line x1="56" y1="573.833" x2="703" y2="573.833" stroke="rgba(0,0,0,0.04)" stroke-width="1" />
<line x1="56" y1="569.667" x2="703" y2="569.667" stroke="rgba(0,0,0,0.04)" stroke-width="1" />
<line x1="56" y1="565.5" x2="703" y2="565.5" stroke="rgba(0,0,0,0.12)" stroke-width="1" />
<line x1="56" y1="561.333" x2="703" y2="561.333" stroke="rgba(0,0,0,0.04)" stroke-width="1" />
<line x1="56" y1="557.167" x2="703" y2="557.167" stroke="rgba(0,0,0,0.04)" stroke-width="1" />
<line x1="56" y1="553" x2="703" y2="553" stroke="rgba(0,0,0,0.11)" stroke-width="1" />
<line x1="56" y1="548.833" x2="703" y2="548.833" stroke="rgba(0,0,0,0.04)" stroke-width="1" />
<line x1="56" y1="544.667" x2="703" y2="544.667" stroke="rgba(0,0,0,0.04)" stroke-width="1" />
</g>
<line x1="473" y1="541" x2="473" y2="590" stroke="rgba(255,0,0,0.13)" stroke-width="1.6" />
<rect x="397" y="588.1" width="18.6" height="1.9" fill="#ffcb00" />
<line x1="295.5" y1="540.5" x2="295.5" y2="590.5" stroke="#ff0000" stroke-width="1.3" shape-rendering="crispEdges"/>
<line x1="448.5" y1="540.5" x2="448.5" y2="590.5" stroke="#ff0000" stroke-width="1.3" shape-rendering="crispEdges"/>
<rect x="55.5" y="540.5" width="648" height="50" fill="none" stroke="#000" stroke-width="1" shape-rendering="crispEdges"/>
<path d="M55.5 590.5v4.1M55.5 540.5v-4.1M73.5 590.5v2.2M73.5 540.5v-2.2M91.5 590.5v2.2M91.5 540.5v-2.2M109.5 590.5v4.1M109.5 540.5v-4.1M127.5 590.5v2.2M127.5 540.5v-2.2M145.5 590.5v2.2M145.5 540.5v-2.2M163.5 590.5v4.1M163.5 540.5v-4.1M181.5 590.5v2.2M181.5 540.5v-2.2M199.5 590.5v2.2M199.5 540.5v-2.2M217.5 590.5v4.1M217.5 540.5v-4.1M235.5 590.5v2.2M235.5 540.5v-2.2M253.5 590.5v2.2M253.5 540.5v-2.2M271.5 590.5v4.1M271.5 540.5v-4.1M289.5 590.5v2.2M289.5 540.5v-2.2M307.5 590.5v2.2M307.5 540.5v-2.2M325.5 590.5v4.1M325.5 540.5v-4.1M343.5 590.5v2.2M343.5 540.5v-2.2M361.5 590.5v2.2M361.5 540.5v-2.2M379.5 590.5v4.1M379.5 540.5v-4.1M397.5 590.5v2.2M397.5 540.5v-2.2M415.5 590.5v2.2M415.5 540.5v-2.2M433.5 590.5v4.1M433.5 540.5v-4.1M451.5 590.5v2.2M451.5 540.5v-2.2M469.5 590.5v2.2M469.5 540.5v-2.2M487.5 590.5v4.1M487.5 540.5v-4.1M505.5 590.5v2.2M505.5 540.5v-2.2M523.5 590.5v2.2M523.5 540.5v-2.2M541.5 590.5v4.1M541.5 540.5v-4.1M559.5 590.5v2.2M559.5 540.5v-2.2M577.5 590.5v2.2M577.5 540.5v-2.2M595.5 590.5v4.1M595.5 540.5v-4.1M613.5 590.5v2.2M613.5 540.5v-2.2M631.5 590.5v2.2M631.5 540.5v-2.2M649.5 590.5v4.1M649.5 540.5v-4.1M667.5 590.5v2.2M667.5 540.5v-2.2M685.5 590.5v2.2M685.5 540.5v-2.2M703.5 590.5v4.1M703.5 540.5v-4.1" stroke="#000" stroke-width="1" fill="none"/>
<text x="55" y="603.8" font-size="12" fill="#333" text-anchor="middle" font-weight="normal" >18</text>
<text x="109" y="603.8" font-size="12" fill="#333" text-anchor="middle" font-weight="normal" >21</text>
<text x="163" y="603.8" font-size="12" fill="#333" text-anchor="middle" font-weight="normal" >0</text>
<text x="217" y="603.8" font-size="12" fill="#333" text-anchor="middle" font-weight="normal" >3</text>
<text x="271" y="603.8" font-size="12" fill="#333" text-anchor="middle" font-weight="normal" >6</text>
<text x="325" y="603.8" font-size="12" fill="#333" text-anchor="middle" font-weight="normal" >9</text>
<text x="379" y="603.8" font-size="12" fill="#333" text-anchor="middle" font-weight="normal" >12</text>
<text x="433" y="603.8" font-size="12" fill="#333" text-anchor="middle" font-weight="normal" >15</text>
<text x="487" y="603.8" font-size="12" fill="#333" text-anchor="middle" font-weight="normal" >18</text>
<text x="541" y="603.8" font-size="12" fill="#333" text-anchor="middle" font-weight="normal" >21</text>
<text x="595" y="603.8" font-size="12" fill="#333" text-anchor="middle" font-weight="normal" >0</text>
<text x="649" y="603.8" font-size="12" fill="#333" text-anchor="middle" font-weight="normal" >3</text>
<text x="703" y="603.8" font-size="12" fill="#333" text-anchor="middle" font-weight="normal" >6</text>
<text x="51.7" y="594.3" font-size="12" fill="#333" text-anchor="end" font-weight="normal" >0</text>
<text x="51.7" y="581" font-size="12" fill="#333" text-anchor="end" font-weight="normal" >15</text>
<text x="51.7" y="569.3" font-size="12" fill="#333" text-anchor="end" font-weight="normal" >30</text>
<text x="51.7" y="556" font-size="12" fill="#333" text-anchor="end" font-weight="normal" >45</text>
<text x="51.7" y="544.3" font-size="12" fill="#333" text-anchor="end" font-weight="normal" >60</text>
<text transform="translate(27,564.9) rotate(-90)" font-size="12" fill="#333" text-anchor="middle">Minuten</text>
<text transform="translate(719.5,564.4) rotate(-90)" font-size="12" fill="#333" text-anchor="middle">Sonne</text>
<text x="59" y="553.8" font-size="11" fill="#777" text-anchor="start" font-weight="normal" >Sd24</text>
<text x="592.5" y="553.8" font-size="11" fill="#777" text-anchor="end" font-weight="normal" >0h 2m</text>
<text x="153.5" y="568.7" font-size="12" fill="#000" text-anchor="middle" font-weight="normal" >Nacht</text>
<text x="585.5" y="568.7" font-size="12" fill="#000" text-anchor="middle" font-weight="normal" >Nacht</text>
<text x="292.7" y="585.7" font-size="9" fill="#ff2020" text-anchor="end" font-weight="normal" >Aufgang</text>
<text x="450.5" y="585.7" font-size="9" fill="#ff2020" text-anchor="start" font-weight="normal" >Untergang</text>
</svg>
</body>
</html>
